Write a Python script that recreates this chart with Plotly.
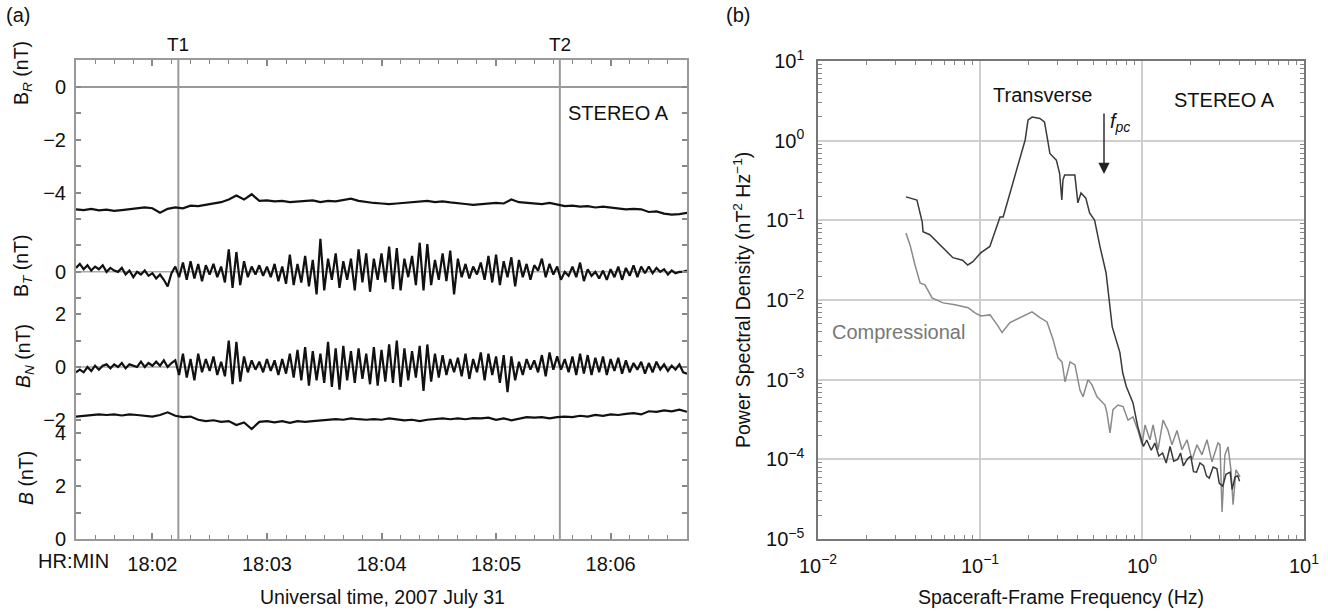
import plotly.graph_objects as go
import pandas as pd

# ---------------- data: panel (a) time series ----------------
t_start_fast = "2007-07-31 18:01:20"
BT = [0.15, 0.3, 0.1, 0.25, 0.05, 0.2, 0.1, 0.25, 0.0, 0.15,
      0.05, 0.0, 0.15, -0.1, 0.05, -0.2, 0.0, -0.1, 0.05, -0.15,
      -0.05, -0.25, -0.1, -0.3, -0.55, -0.05, 0.2,
      -0.2, 0.35, -0.3,
      0.4, -0.25, 0.3, -0.35, 0.25, -0.1, 0.3, -0.2, 0.2, -0.4,
      0.85, -0.6, 0.75, -0.5, 0.4, -0.2, 0.2, -0.1, 0.25, -0.15,
      0.2, -0.2, 0.3, -0.35, 0.2, -0.45, 0.65, -0.5, 0.3, -0.4,
      0.6, -0.55, 0.45, -0.85, 1.25, -0.7, 0.5, -0.3, 0.7, -0.6,
      0.4, -0.3, 0.5, -0.7, 0.85, -0.4, 0.7, -0.75, 0.5, -0.3,
      0.7, -0.4, 0.95, -0.65, 0.9, -0.7, 0.5, -0.2, 0.6, -0.5,
      1.1, -0.7, 1.05, -0.5, 0.45, -0.3, 0.7, -0.35, 0.8, -0.85,
      0.5, -0.2, 0.3, -0.25, 0.2, -0.1, 0.35, -0.3, 0.6, -0.4,
      0.65, -0.5, 0.4, -0.2, 0.55, -0.55, 0.45, -0.2, 0.3, -0.3,
      0.25, 0.05, 0.5, -0.2, 0.3, -0.1, 0.2, -0.3, 0.0, -0.15,
      0.2, -0.2, 0.35, -0.35, 0.1, -0.15, 0.0, -0.25, 0.05, -0.3,
      0.1, -0.2, 0.2, -0.3, 0.15, -0.15, 0.25, -0.2, 0.2, -0.05,
      0.2, -0.05, 0.15, 0.0, 0.1, -0.1, 0.05, -0.05, 0.0, 0.0, 0.05]
BN = [-0.2, -0.1, -0.2, 0.0, -0.15, 0.05, -0.1, 0.05, 0.1, -0.05,
      0.1, 0.0, 0.15, -0.05, 0.1, 0.05, 0.0, 0.2, 0.0, 0.15,
      0.05, 0.2, 0.05, 0.25, 0.0, 0.15, 0.25,
      -0.3, 0.5, -0.4,
      0.3, -0.5, 0.5, -0.2, 0.3, -0.15, 0.4, -0.3, 0.2, -0.35,
      1.0, -0.65, 0.95, -0.55, 0.4, -0.2, 0.25, -0.1, 0.2, -0.2,
      0.3, -0.15, 0.25, -0.3, 0.3, -0.25, 0.5, -0.4, 0.65, -0.5,
      0.75, -0.7, 0.6, -0.5, 0.5, -0.6, 0.95, -0.75, 0.7, -0.85,
      0.8, -0.5, 0.6, -0.6, 0.7, -0.45, 0.5, -0.65, 0.75, -0.7,
      0.65, -0.55, 0.85, -0.6, 1.0, -0.75, 0.7, -0.5, 0.6, -0.4,
      0.8, -0.9, 0.85, -0.55, 0.5, -0.4, 0.45, -0.3, 0.3, -0.2,
      0.35, -0.35, 0.5, -0.45, 0.3, -0.2, 0.55, -0.5, 0.5, -0.3,
      0.4, -0.6, 0.45, -0.95, 0.4, -0.5, 0.2, -0.3, 0.3, -0.1,
      0.25, -0.2, 0.45, -0.35, 0.55, -0.1, 0.4, -0.1, 0.3, -0.2,
      0.4, -0.3, 0.5, -0.25, 0.45, -0.3, 0.35, -0.2, 0.4, -0.3,
      0.3, -0.15, 0.35, -0.25, 0.25, -0.2, 0.15, -0.1, 0.2, -0.25,
      0.15, -0.2, 0.2, -0.1, 0.1, -0.15, 0.05, -0.1, 0.1, -0.2, -0.25]

t_start_slow = "2007-07-31 18:01:20"
BR = [-4.62, -4.65, -4.6, -4.66, -4.63, -4.68, -4.65, -4.62, -4.6, -4.55,
      -4.58, -4.75, -4.6, -4.55, -4.58, -4.48, -4.5, -4.45, -4.4, -4.35,
      -4.25, -4.1, -4.25, -4.05, -4.3, -4.28, -4.32, -4.3, -4.35, -4.32,
      -4.3, -4.28, -4.35, -4.3, -4.32, -4.28, -4.22, -4.3, -4.35, -4.38,
      -4.4, -4.42, -4.4, -4.38, -4.35, -4.32, -4.3, -4.35, -4.32, -4.36,
      -4.4, -4.42, -4.45, -4.42, -4.4, -4.38, -4.4, -4.25, -4.35, -4.38,
      -4.4, -4.42, -4.38, -4.45, -4.5, -4.48, -4.52, -4.5, -4.55, -4.52,
      -4.55, -4.58, -4.62, -4.6, -4.62, -4.72, -4.7, -4.78, -4.82, -4.8, -4.75]
BMAG = [4.62, 4.65, 4.68, 4.7, 4.68, 4.7, 4.66, 4.7, 4.68, 4.66,
        4.62, 4.68, 4.78, 4.65, 4.6, 4.62, 4.5, 4.45, 4.48, 4.42,
        4.45, 4.3, 4.4, 4.15, 4.42, 4.45, 4.4, 4.45, 4.38, 4.45,
        4.42, 4.45, 4.48, 4.5, 4.52, 4.5, 4.55, 4.52, 4.5, 4.52,
        4.5, 4.55, 4.52, 4.48, 4.5, 4.45, 4.5, 4.52, 4.55, 4.52,
        4.55, 4.52, 4.56, 4.55, 4.58, 4.5, 4.55, 4.48, 4.55, 4.6,
        4.58, 4.6, 4.55, 4.6, 4.62, 4.6, 4.65, 4.62, 4.68, 4.65,
        4.7, 4.68, 4.72, 4.75, 4.7, 4.82, 4.8, 4.85, 4.82, 4.88, 4.8]

T1 = "2007-07-31 18:02:13.6"
T2 = "2007-07-31 18:05:33.4"

# ---------------- data: panel (b) spectra ----------------
f_trans = [0.0349, 0.0408, 0.044, 0.0445, 0.049, 0.059, 0.068, 0.078, 0.084, 0.090,
           0.101, 0.115, 0.133, 0.139, 0.149, 0.159, 0.166, 0.181, 0.19, 0.198,
           0.21, 0.234, 0.25, 0.262, 0.27, 0.296, 0.31, 0.32, 0.325, 0.333,
           0.385, 0.402, 0.42, 0.45, 0.475, 0.51, 0.55, 0.60, 0.63, 0.655,
           0.73, 0.76, 0.80, 0.88, 0.94, 1.02, 1.07, 1.14, 1.2, 1.27,
           1.34, 1.41, 1.49, 1.57, 1.66, 1.73, 1.80, 1.9, 2.0, 2.08,
           2.17, 2.28, 2.4, 2.5, 2.6, 2.75, 2.9, 3.0, 3.15, 3.3,
           3.5, 3.6, 3.75, 3.9, 4.0]
p_trans = [0.197, 0.18, 0.095, 0.072, 0.066, 0.045, 0.034, 0.0316, 0.0275, 0.030,
           0.039, 0.047, 0.11, 0.11, 0.18, 0.295, 0.39, 0.72, 1.02, 1.82,
           1.98, 1.9, 1.72, 1.0, 0.69, 0.57, 0.39, 0.18, 0.32, 0.37,
           0.37, 0.166, 0.22, 0.19, 0.124, 0.10, 0.047, 0.022, 0.010, 0.0046,
           0.0022, 0.00122, 0.00082, 0.00051, 0.00026, 0.000145, 0.000175, 0.00013, 0.00016, 0.00011,
           0.00012, 0.00009, 0.000145, 0.000095, 0.0001, 0.00012, 0.000083, 0.0001, 0.00011, 0.00007,
           0.000069, 0.00009, 0.000083, 0.000062, 0.000058, 0.00008, 0.000076, 0.00005, 0.000046, 0.000065,
           0.000069, 0.000042, 0.00006, 0.000062, 0.000053]

f_comp = [0.0349, 0.0370, 0.0397, 0.0427, 0.0457, 0.0506, 0.0592, 0.0702, 0.0844, 0.0931,
          0.1014, 0.1153, 0.1274, 0.1368, 0.1531, 0.1766, 0.2094, 0.2345, 0.2592, 0.2825,
          0.3030, 0.3208, 0.3350, 0.3597, 0.3857, 0.4140, 0.4325, 0.4642, 0.4911, 0.5275,
          0.5508, 0.5912, 0.6081, 0.6345, 0.6622, 0.7112, 0.7638, 0.8204, 0.8796, 0.9445,
          1.0, 1.044, 1.12, 1.17, 1.256, 1.349, 1.447, 1.531, 1.644, 1.766,
          1.896, 2.036, 2.186, 2.346, 2.519, 2.705, 2.945, 3.03, 3.12, 3.25,
          3.40, 3.54, 3.65, 3.80, 4.03]
p_comp = [0.0695, 0.0491, 0.0275, 0.0164, 0.0155, 0.0106, 0.0092, 0.0087, 0.0080, 0.0069,
          0.0063, 0.0065, 0.0049, 0.0039, 0.0052, 0.0060, 0.0071, 0.0060, 0.0053, 0.0032,
          0.00188, 0.00167, 0.00094, 0.00167, 0.00153, 0.00074, 0.00061, 0.0010, 0.00086, 0.00061,
          0.00056, 0.00048, 0.00038, 0.000215, 0.00042, 0.00048, 0.00046, 0.00031, 0.00034, 0.00023,
          0.000152, 0.00027, 0.000176, 0.00027, 0.000132, 0.00031, 0.00023, 0.000152, 0.00023, 0.000132,
          0.000176, 0.0000986, 0.000152, 0.000114, 0.000176, 0.000093, 0.000161, 0.000152, 0.0000219, 0.000114,
          0.000144, 0.0000738, 0.0000269, 0.0000738, 0.0000603]

# ---------------- layout constants ----------------
FONT = "Liberation Sans, Arial, sans-serif"
OFF_B, OFF_BN, OFF_BT, OFF_BR = 0.0, 6.49, 10.08, 17.06
W, H = 1328, 611

t_fast = pd.date_range(t_start_fast, periods=len(BT), freq="2s")
t_slow = pd.date_range(t_start_slow, periods=len(BR), freq="4s")

fig = go.Figure()
line_k = dict(color="#111", width=2.2)
fig.add_trace(go.Scatter(x=t_slow, y=[v + OFF_BR for v in BR], mode="lines", line=line_k, xaxis="x", yaxis="y"))
fig.add_trace(go.Scatter(x=t_fast, y=[v + OFF_BT for v in BT], mode="lines", line=line_k, xaxis="x", yaxis="y"))
fig.add_trace(go.Scatter(x=t_fast, y=[v + OFF_BN for v in BN], mode="lines", line=line_k, xaxis="x", yaxis="y"))
fig.add_trace(go.Scatter(x=t_slow, y=[v + OFF_B for v in BMAG], mode="lines", line=line_k, xaxis="x", yaxis="y"))

fig.add_trace(go.Scatter(x=f_comp, y=p_comp, mode="lines", line=dict(color="#8a8a8a", width=1.5), xaxis="x2", yaxis="y2"))
fig.add_trace(go.Scatter(x=f_trans, y=p_trans, mode="lines", line=dict(color="#3a3a3a", width=1.5), xaxis="x2", yaxis="y2"))

# left y ticks
ytv, ytt = [], []
for v in range(0, 5):
    ytv.append(OFF_B + v); ytt.append(str(v) if v % 2 == 0 else "")
for v in range(-2, 3):
    ytv.append(OFF_BN + v); ytt.append(str(v).replace("-", "−") if v % 2 == 0 else "")
for v in range(-1, 2):
    ytv.append(OFF_BT + v); ytt.append("0" if v == 0 else "")
for v in range(-5, 1):
    ytv.append(OFF_BR + v); ytt.append(str(v).replace("-", "−") if v % 2 == 0 else "")

dec_minor = [m * 10.0 ** k for k in range(-5, 1) for m in range(2, 10)]
dec_minor_x = [m * 10.0 ** k for k in range(-2, 1) for m in range(2, 10)]

axfont = dict(family=FONT, size=20, color="#111")
fig.update_layout(
    template="none",
    width=W, height=H, margin=dict(l=0, r=0, t=0, b=0, pad=0, autoexpand=False),
    paper_bgcolor="white", plot_bgcolor="white", showlegend=False,
    font=dict(family=FONT, size=20, color="#111"),
    xaxis=dict(domain=[76 / W, 687 / W], type="date", automargin=False,
               range=["2007-07-31 18:01:20", "2007-07-31 18:06:40"],
               tickformat="%H:%M", dtick=60000, tick0="2007-07-31 18:00:00",
               ticks="inside", ticklen=6, tickwidth=1.5, tickcolor="#888",
               showline=True, linecolor="#999", linewidth=2, mirror="allticks",
               showgrid=False, zeroline=False, tickfont=axfont, anchor="y",
               ticklabelstandoff=6,
               minor=dict(dtick=10000, tick0="2007-07-31 18:00:00", ticks="inside",
                          ticklen=4, tickcolor="#888", tickwidth=1.2, showgrid=False)),
    yaxis=dict(domain=[1 - 539 / H, 1 - 60 / H], range=[0, 18.075], automargin=False,
               tickmode="array", tickvals=ytv, ticktext=ytt,
               ticks="inside", ticklen=5, tickwidth=1.5, tickcolor="#888",
               showline=True, linecolor="#999", linewidth=2, mirror="allticks",
               showgrid=False, zeroline=False, tickfont=axfont, anchor="x",
               ticklabelstandoff=4),
    xaxis2=dict(domain=[818 / W, 1304 / W], type="log", range=[-2, 1], automargin=False,
                tickmode="array", tickvals=[0.01, 0.1, 1, 10],
                ticktext=["10<sup>−2</sup>", "10<sup>−1</sup>", "10<sup>0</sup>", "10<sup>1</sup>"],
                ticks="", showline=True, linecolor="#777", linewidth=1.5, mirror="allticks",
                showgrid=True, gridcolor="#cfcfcf", gridwidth=2, zeroline=False,
                tickfont=axfont, anchor="y2", ticklabelstandoff=8,
                minor=dict(tickmode="array", tickvals=dec_minor_x, ticks="inside",
                           ticklen=4, tickcolor="#888", showgrid=False)),
    yaxis2=dict(domain=[1 - 539 / H, 1 - 61 / H], type="log", range=[-5, 1], automargin=False,
                tickmode="array", tickvals=[1e-5, 1e-4, 1e-3, 1e-2, 1e-1, 1, 10],
                ticktext=["10<sup>−5</sup>", "10<sup>−4</sup>", "10<sup>−3</sup>", "10<sup>−2</sup>",
                          "10<sup>−1</sup>", "10<sup>0</sup>", "10<sup>1</sup>"],
                ticks="", showline=True, linecolor="#777", linewidth=1.5, mirror="allticks",
                showgrid=True, gridcolor="#cfcfcf", gridwidth=2, zeroline=False,
                tickfont=axfont, anchor="x2", ticklabelstandoff=8,
                minor=dict(tickmode="array", tickvals=dec_minor, ticks="inside",
                           ticklen=4, tickcolor="#888", showgrid=False)),
)

# zero reference lines and event markers (panel a)
for off, col in [(OFF_BR, "#777"), (OFF_BT, "#aaa"), (OFF_BN, "#aaa")]:
    fig.add_shape(type="line", xref="x domain", yref="y", x0=0, x1=1, y0=off, y1=off,
                  line=dict(color=col, width=1.5), layer="below")
for tt in [T1, T2]:
    fig.add_shape(type="line", xref="x", yref="y domain", x0=tt, x1=tt, y0=0, y1=1,
                  line=dict(color="#999", width=2), layer="below")


def ann(text, x, y, size=20, color="#111", angle=0, xanchor="center"):
    fig.add_annotation(text=text, x=x / W, y=1 - y / H, xref="paper", yref="paper",
                       showarrow=False, textangle=angle, xanchor=xanchor, yanchor="middle",
                       font=dict(family=FONT, size=size, color=color))


ann("(a)", 18, 15)
ann("(b)", 738, 15)
ann("T1", 178, 44, size=19)
ann("T2", 560, 44, size=19)
ann("STEREO A", 618, 113)
ann("STEREO A", 1224, 100)
ann("Transverse", 1042, 95)
ann("Compressional", 898, 332, color="#777")
ann("<i>f<sub>pc</sub></i>", 1108, 122, xanchor="left")
ann("HR:MIN", 73, 561)
ann("Universal time, 2007 July 31", 382, 597, size=19.5)
ann("Spaceraft-Frame Frequency (Hz)", 1061, 597, size=19.5)
ann("Power Spectral Density (nT<sup>2</sup> Hz<sup>−1</sup>)", 742, 300, size=19.5, angle=-90)
ann("B<sub><i>R</i></sub> (nT)", 22, 73, size=19.5, angle=-90)
ann("B<sub><i>T</i></sub> (nT)", 22, 266, size=19.5, angle=-90)
ann("<i>B<sub>N</sub></i> (nT)", 24, 356, size=19.5, angle=-90)
ann("<i>B</i> (nT)", 26, 478, size=19.5, angle=-90)

# f_pc arrow
fig.add_annotation(text="", x=1104 / W, y=1 - 174 / H, xref="paper", yref="paper",
                   ax=0, ay=-62, showarrow=True, arrowhead=2, arrowsize=1.6,
                   arrowwidth=1.4, arrowcolor="#222")

fig.write_html("out.html")
